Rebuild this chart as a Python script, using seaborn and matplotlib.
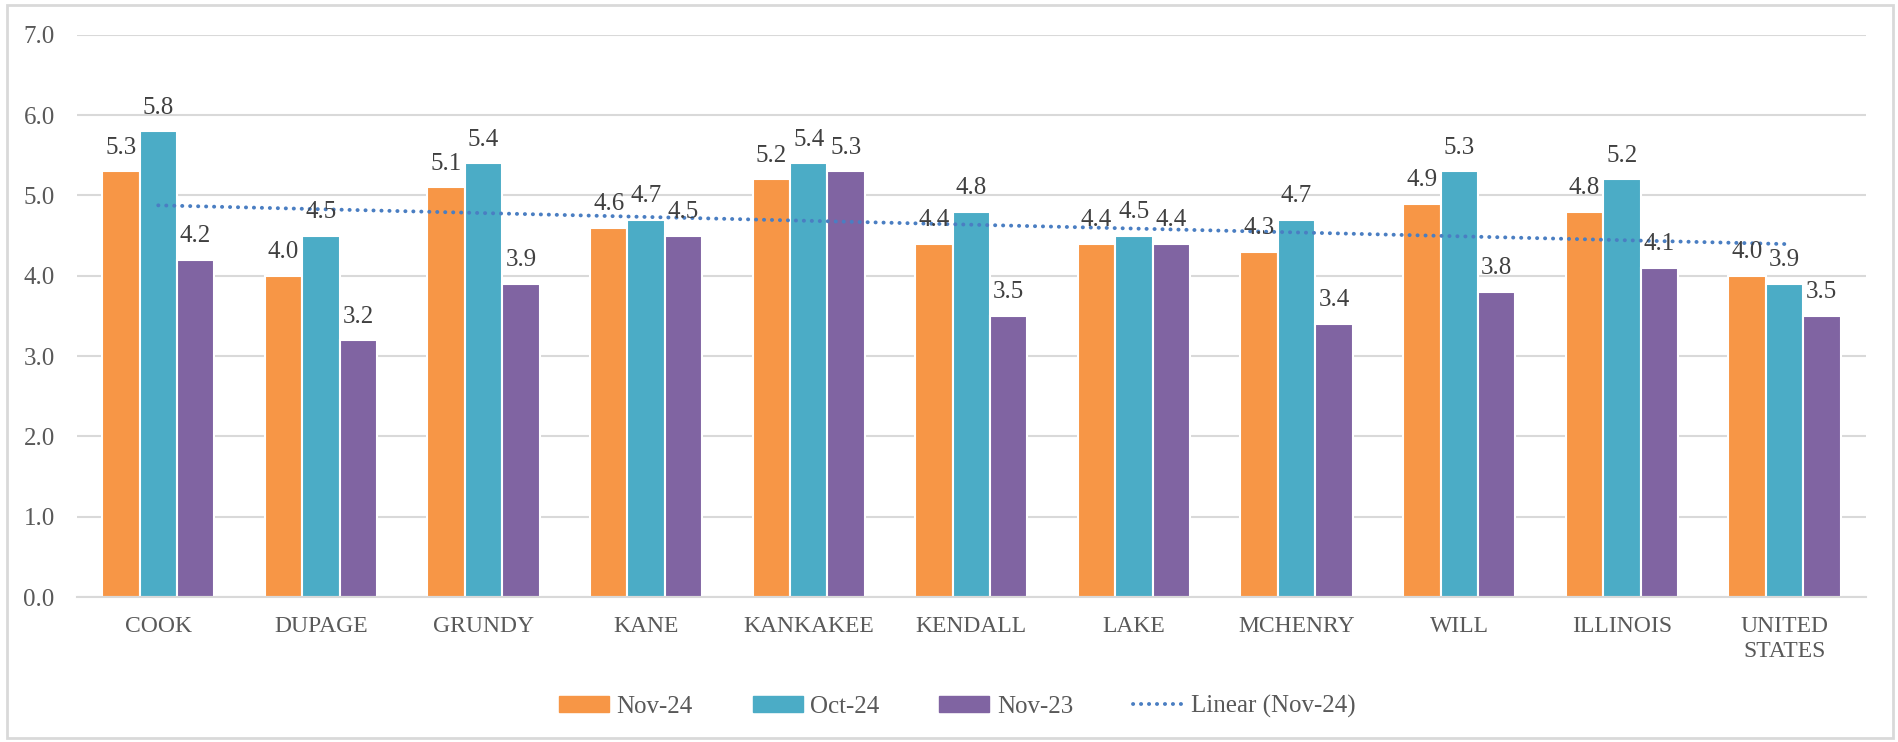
import numpy as np
import pandas as pd
import matplotlib.pyplot as plt
import seaborn as sns
from matplotlib.patches import Rectangle
from matplotlib.lines import Line2D

# values
areas = ['COOK', 'DUPAGE', 'GRUNDY', 'KANE', 'KANKAKEE', 'KENDALL', 'LAKE',
         'MCHENRY', 'WILL', 'ILLINOIS', 'UNITED\nSTATES']
nov24 = [5.3, 4.0, 5.1, 4.6, 5.2, 4.4, 4.4, 4.3, 4.9, 4.8, 4.0]
oct24 = [5.8, 4.5, 5.4, 4.7, 5.4, 4.8, 4.5, 4.7, 5.3, 5.2, 3.9]
nov23 = [4.2, 3.2, 3.9, 4.5, 5.3, 3.5, 4.4, 3.4, 3.8, 4.1, 3.5]
series = ['Nov-24', 'Oct-24', 'Nov-23']
colors = ['#F79646', '#4BACC6', '#8064A2']
trend_color = '#4A7EC2'

data = pd.DataFrame({
    'Area': areas * 3,
    'Rate': nov24 + oct24 + nov23,
    'Series': [s for s in series for _ in areas],
})

sns.set_style('white')
plt.rcParams['font.family'] = ['Liberation Serif', 'DejaVu Serif']

fig = plt.figure(figsize=(18.99, 7.42), dpi=100)
ax = fig.add_axes([0.0405, 0.1954, 0.942, 0.7576])

sns.barplot(data=data, x='Area', y='Rate', hue='Series', order=areas,
            hue_order=series, palette=colors, saturation=1, width=0.69,
            edgecolor='white', linewidth=1.5, errorbar=None, ax=ax)

for cont in ax.containers:
    ax.bar_label(cont, fmt='%.1f', padding=9, fontsize=18, color='#404040')

# linear trendline of Nov-24
dots = (0, (0.05, 2.0))
xs = np.arange(len(areas))
slope, icpt = np.polyfit(xs, nov24, 1)
ax.plot(xs, slope * xs + icpt, linestyle=dots, linewidth=2.8,
        color=trend_color, dash_capstyle='round')

ax.set_ylim(0, 7)
ax.set_xlim(-0.5, len(areas) - 0.5)
ax.set_yticks(np.arange(0, 7.1, 1.0))
ax.set_yticklabels([f'{v:.1f}' for v in np.arange(0, 7.1, 1.0)])
ax.yaxis.grid(True, color='#D9D9D9', linewidth=1.5)
ax.set_axisbelow(True)
for s in ['top', 'right', 'left']:
    ax.spines[s].set_visible(False)
ax.spines['bottom'].set_color('#D9D9D9')
ax.spines['bottom'].set_linewidth(1.5)
ax.tick_params(axis='y', length=0, pad=16, labelsize=18, labelcolor='#595959')
ax.tick_params(axis='x', length=0, pad=14, labelsize=17, labelcolor='#595959')
ax.set_xlabel('')
ax.set_ylabel('')

handles = [Rectangle((0, 0), 1, 1, color=c) for c in colors]
handles.append(Line2D([0], [0], color=trend_color, linestyle=dots,
                      linewidth=2.8, dash_capstyle='round'))
labels = series + ['Linear (Nov-24)']
ax.get_legend().remove()
fig.legend(handles, labels, loc='center', bbox_to_anchor=(0.504, 0.048),
           ncol=4, frameon=False, fontsize=18, labelcolor='#595959',
           handlelength=2.0, handleheight=0.6, columnspacing=2.4,
           handletextpad=0.3)

# outer chart border
fig.patches.append(Rectangle((0.0037, 0.006), 0.9932, 0.987, transform=fig.transFigure,
                             fill=False, edgecolor='#D9D9D9', linewidth=2))

fig.savefig('out.png', dpi=100)
